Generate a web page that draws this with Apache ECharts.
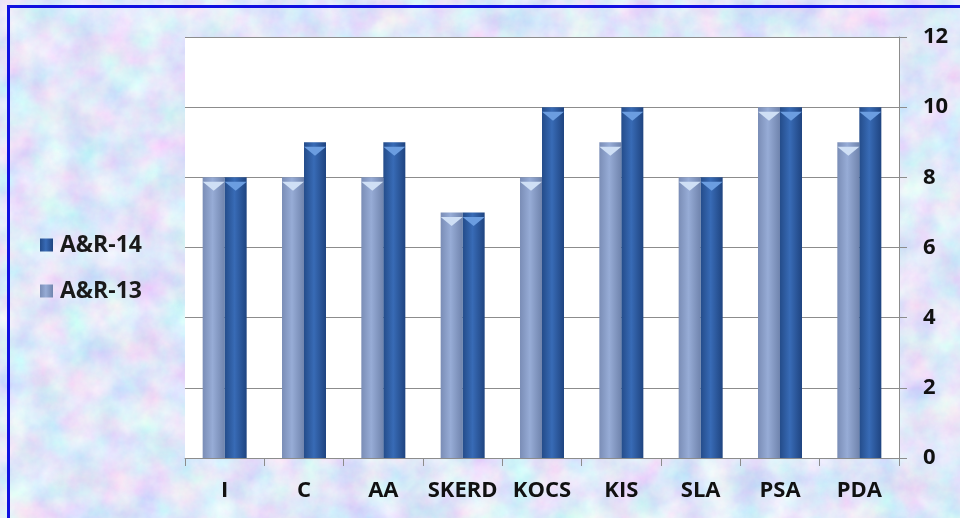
<!DOCTYPE html>
<html>
<head>
<meta charset="utf-8">
<script src="https://cdn.jsdelivr.net/npm/echarts@6/dist/echarts.min.js"></script>
<style>
html,body{margin:0;padding:0;width:960px;height:518px;overflow:hidden;}
body{
  background-color:#c6d3ef;
  background-image:url("data:image/svg+xml,%3Csvg xmlns='http://www.w3.org/2000/svg' width='960' height='518'%3E%3Cfilter id='n'%3E%3CfeTurbulence type='fractalNoise' baseFrequency='0.03' numOctaves='5' seed='11'/%3E%3CfeColorMatrix values='0.55 0 0 0 0.47  0 0.5 0 0 0.55  0 0 0.15 0 0.87  0 0 0 0 1'/%3E%3C/filter%3E%3Crect width='100%25' height='100%25' filter='url(%23n)'/%3E%3C/svg%3E");
}
#frame{position:absolute;left:7px;top:5px;width:970px;height:530px;border:3px solid #1010e0;box-sizing:border-box;pointer-events:none;}
#chart{position:absolute;left:0;top:0;width:960px;height:518px;}
</style>
</head>
<body>
<div id="chart"></div>
<div id="frame"></div>
<script>
var categories = ['I', 'C', 'AA', 'SKERD', 'KOCS', 'KIS', 'SLA', 'PSA', 'PDA'];
var seriesNames = ['A&R-13', 'A&R-14'];
var ar13 = [8, 8, 8, 7, 8, 9, 8, 10, 9];
var ar14 = [8, 9, 9, 7, 10, 10, 8, 10, 10];
var yTicks = [0, 2, 4, 6, 8, 10, 12];

var FONT = '"Open Sans", "DejaVu Sans", sans-serif';

function hGrad(stops) {
  return new echarts.graphic.LinearGradient(0, 0, 1, 0, stops);
}
var lightGrad = hGrad([
  {offset: 0, color: '#7a8db6'},
  {offset: 0.45, color: '#97acd6'},
  {offset: 1, color: '#7084ad'}
]);
var darkGrad = hGrad([
  {offset: 0, color: '#244c8a'},
  {offset: 0.45, color: '#386bb6'},
  {offset: 1, color: '#1f4480'}
]);

var chart = echarts.init(document.getElementById('chart'), null, {renderer: 'canvas'});
var capPath = 'path://M0,0 L2,0 L1,1 Z';

chart.setOption({
  animation: false,
  backgroundColor: 'transparent',
  grid: {
    left: 185, right: 61, top: 37, bottom: 60,
    show: true, backgroundColor: '#ffffff', borderWidth: 0
  },
  legend: {
    orient: 'vertical',
    left: 35, top: 225,
    itemWidth: 13, itemHeight: 13, itemGap: 16,
    data: [
      {name: 'A&R-14', icon: 'rect', itemStyle: {color: darkGrad}},
      {name: 'A&R-13', icon: 'rect', itemStyle: {color: lightGrad}}
    ],
    textStyle: {fontFamily: FONT, fontWeight: 'bold', fontSize: 23, lineHeight: 30, color: '#1a1a1a', padding: [0, 0, 0, 2]}
  },
  xAxis: {
    type: 'category',
    data: categories,
    boundaryGap: true,
    axisLine: {show: true, lineStyle: {color: '#8c8c8c', width: 1}},
    axisTick: {show: true, length: 8, alignWithLabel: false, lineStyle: {color: '#8c8c8c'}},
    axisLabel: {interval: 0, margin: 22, fontFamily: FONT, fontWeight: 'bold', fontSize: 22, color: '#111'},
    splitLine: {show: false}
  },
  yAxis: {
    type: 'value',
    position: 'right',
    min: yTicks[0], max: yTicks[yTicks.length - 1], interval: 2,
    axisLine: {show: true, lineStyle: {color: '#8c8c8c', width: 1}},
    axisTick: {show: true, length: 8, lineStyle: {color: '#8c8c8c'}},
    axisLabel: {margin: 24, fontFamily: FONT, fontWeight: 'bold', fontSize: 22, color: '#111'},
    splitLine: {show: true, lineStyle: {color: '#8c8c8c', width: 1}}
  },
  series: [
    {
      name: seriesNames[0], type: 'bar', data: ar13,
      barWidth: 22, barGap: '0%',
      itemStyle: {color: lightGrad}
    },
    {
      name: seriesNames[1], type: 'bar', data: ar14,
      barWidth: 22, barGap: '0%',
      itemStyle: {color: darkGrad}
    },
    {
      name: 'cap13', type: 'pictorialBar', data: ar13,
      symbol: capPath, symbolSize: [22, 9], symbolPosition: 'end',
      symbolOffset: [-11, '50%'], z: 5, silent: true,
      itemStyle: {color: '#cfdff5'}
    },
    {
      name: 'cap14', type: 'pictorialBar', data: ar14,
      symbol: capPath, symbolSize: [22, 9], symbolPosition: 'end',
      symbolOffset: [11, '50%'], z: 5, silent: true,
      itemStyle: {color: '#6b9de0'}
    }
  ]
});
</script>
</body>
</html>
